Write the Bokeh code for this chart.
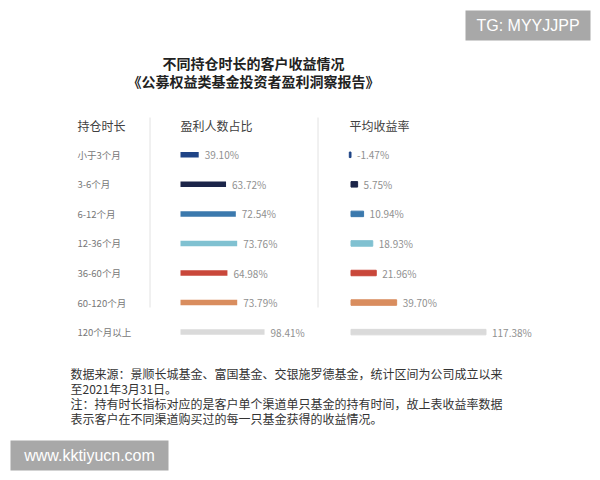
from bokeh.plotting import figure
from bokeh.models import Range1d, ColumnDataSource
from bokeh.core.properties import value
from bokeh.embed import file_html
from bokeh.resources import INLINE

# ---------------- data ----------------
categories = ["小于3个月", "3-6个月", "6-12个月", "12-36个月", "36-60个月", "60-120个月", "120个月以上"]
profit_share = [39.10, 63.72, 72.54, 73.76, 64.98, 73.79, 98.41]   # 盈利人数占比 (%)
avg_return = [-1.47, 5.75, 10.94, 18.93, 21.96, 39.70, 117.38]     # 平均收益率 (%)
bar_colors = ["#1f4486", "#1c2549", "#3b79ad", "#80c1d1", "#c9473a", "#d98d5e", "#dadada"]

title_lines = ["不同持仓时长的客户收益情况", "《公募权益类基金投资者盈利洞察报告》"]
headers = ["持仓时长", "盈利人数占比", "平均收益率"]
notes = [
    "数据来源：景顺长城基金、富国基金、交银施罗德基金，统计区间为公司成立以来",
    "至2021年3月31日。",
    "注：持有时长指标对应的是客户单个渠道单只基金的持有时间，故上表收益率数据",
    "表示客户在不同渠道购买过的每一只基金获得的收益情况。",
]

# ---------------- layout constants (pixels) ----------------
W, H = 600, 480
FONT = "Noto Sans CJK SC"
ROW0_Y, ROW_STEP = 154.3, 29.55
PCT_BASE, PCT_X0, PCT_PX = 22.7, 180.0, 1.11
RET_X0, RET_PX = 350.5, 1.15

rows = list(range(len(categories)))
src = ColumnDataSource(dict(
    row=rows,
    cat=categories,
    pct=profit_share,
    ret=avg_return,
    ret_pos=[max(v, 0) for v in avg_return],
    pct_label=[f"{v:.2f}%" for v in profit_share],
    ret_label=[f"{v:.2f}%" for v in avg_return],
    color=bar_colors,
))

p = figure(width=W, height=H, x_range=Range1d(0, W), y_range=Range1d(H, 0),
           output_backend="svg", toolbar_location=None, min_border=0,
           x_axis_location=None, y_axis_location=None)
p.grid.visible = False
p.outline_line_color = None
p.background_fill_color = "white"
p.border_fill_color = "white"

p.extra_y_ranges = {"rows": Range1d(start=(H - ROW0_Y) / ROW_STEP, end=-ROW0_Y / ROW_STEP)}
p.extra_x_ranges = {
    "pct": Range1d(start=PCT_BASE - PCT_X0 / PCT_PX, end=PCT_BASE + (W - PCT_X0) / PCT_PX),
    "ret": Range1d(start=-RET_X0 / RET_PX, end=(W - RET_X0) / RET_PX),
}

# title
p.text(x=253, y=[62, 80], text=title_lines, text_align="center", text_baseline="middle",
       text_font=value(FONT), text_font_size="14px", text_font_style="bold", text_color="#222222")

# headers
p.text(x=[77, 180, 349], y=[125, 125, 125], text=headers, text_baseline="middle",
       text_font=value(FONT), text_font_size="12px", text_color="#404040")

# separators
p.segment(x0=[149.5, 317.5], y0=[117, 117], x1=[149.5, 317.5], y1=[307, 307],
          line_color="#e2e2e2", line_width=1)

# category labels
p.text(x=77, y="row", text="cat", source=src, y_range_name="rows", text_baseline="middle",
       text_font=value(FONT), text_font_size="9.5px", text_color="#777777")

# profit share bars
p.hbar(y="row", left=PCT_BASE, right="pct", height=0.186, fill_color="color", line_color=None,
       source=src, x_range_name="pct", y_range_name="rows")
p.text(x="pct", y="row", text="pct_label", source=src, x_range_name="pct", y_range_name="rows",
       x_offset=6, text_baseline="middle", text_font=value(FONT), text_font_size="10px",
       text_color="#909090")

# average return bars
p.hbar(y="row", left=0, right="ret", height=0.186, fill_color="color", line_color="color",
       line_width=1, source=src, x_range_name="ret", y_range_name="rows")
p.text(x="ret_pos", y="row", text="ret_label", source=src, x_range_name="ret", y_range_name="rows",
       x_offset=6, text_baseline="middle", text_font=value(FONT), text_font_size="10px",
       text_color="#909090")

# footnote
p.text(x=70, y=[373, 388, 403, 418], text=notes, text_baseline="middle",
       text_font=value(FONT), text_font_size="12px", text_color="#333333")

# watermarks
p.quad(left=[465, 10], right=[590, 168], top=[10, 440], bottom=[40, 470],
       fill_color="#a8a8a8", line_color=None)
p.text(x=[527.5, 89], y=[25, 455], text=["TG: MYYJJPP", "www.kktiyucn.com"],
       text_align="center", text_baseline="middle", text_font=value("Liberation Sans"),
       text_font_size="16px", text_color="white")

open("out.html", "w").write(file_html(p, INLINE))
